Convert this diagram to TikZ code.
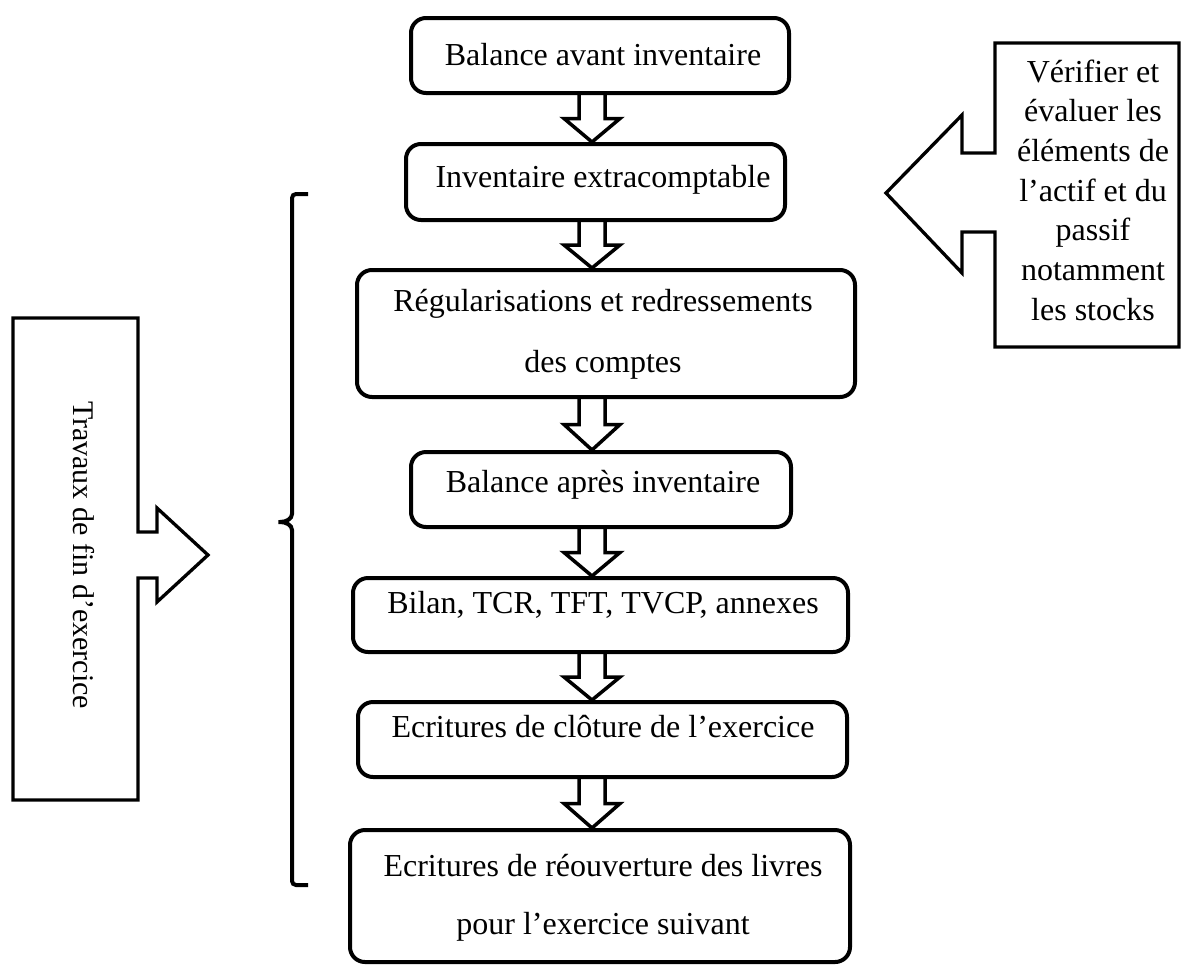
\documentclass[tikz,border=0pt]{standalone}
\usepackage{fontspec}
\setmainfont{Liberation Serif}
\usetikzlibrary{calc}
\begin{document}
\begin{tikzpicture}[x=1pt,y=-1pt,
  flowbox/.style={draw, line width=4pt, rounded corners=15pt, inner sep=0pt},
  txt/.style={font=\fontsize{32}{39.7}\selectfont, inner sep=0pt, anchor=base},
  mtxt/.style={font=\fontsize{32}{39.7}\selectfont, inner sep=0pt, align=center},
  downarrow/.style={draw, line width=3.5pt, line join=miter,
    to path={let \p1=(\tikztostart), \p2=(\tikztotarget), \n1={(\y1+\y2)/2} in
      (\x1-13pt,\y1) -- (\x1-13pt,\n1) -- (\x1-28pt,\n1) -- (\x2,\y2) -- (\x1+28pt,\n1) -- (\x1+13pt,\n1) -- (\x1+13pt,\y1)}},
  blockarrow/.style={draw, line width=3.3pt, line join=miter},
  bracket/.style={draw, line width=4pt}]
\useasboundingbox (0,0) rectangle (1182,964);

% boxes
\node[flowbox, minimum width=378pt, minimum height=75pt] (b1) at (600,55.5) {};
\node[flowbox, minimum width=379pt, minimum height=76pt] (b2) at (595.5,182) {};
\node[flowbox, minimum width=498pt, minimum height=127pt] (b3) at (606,333.5) {};
\node[flowbox, minimum width=380pt, minimum height=75pt] (b4) at (601,489.5) {};
\node[flowbox, minimum width=495pt, minimum height=74pt] (b5) at (600.5,615) {};
\node[flowbox, minimum width=489pt, minimum height=75pt] (b6) at (602.5,739.5) {};
\node[flowbox, minimum width=500pt, minimum height=132pt] (b7) at (600,896) {};

% texts
\node[txt] (t1) at (603,65) {Balance avant inventaire};
\node[txt] (t2) at (603,187) {Inventaire extracomptable};
\node[mtxt, font=\fontsize{32}{61}\selectfont] (t3) at (603,334) {Régularisations et redressements\\des comptes};
\node[txt] (t4) at (603,492) {Balance après inventaire};
\node[txt] (t5) at (603,613) {Bilan, TCR, TFT, TVCP, annexes};
\node[txt] (t6) at (603,737) {Ecritures de clôture de l’exercice};
\node[mtxt, font=\fontsize{32}{58}\selectfont] (t7) at (603,898) {Ecritures de réouverture des livres\\pour l’exercice suivant};

% hollow arrows
\coordinate (ax) at (592,0);
\draw[downarrow] (b1.south -| ax) to (b2.north -| ax);
\draw[downarrow] (b2.south -| ax) to (b3.north -| ax);
\draw[downarrow] (b3.south -| ax) to (b4.north -| ax);
\draw[downarrow] (b4.south -| ax) to (b5.north -| ax);
\draw[downarrow] (b5.south -| ax) to (b6.north -| ax);
\draw[downarrow] (b6.south -| ax) to (b7.north -| ax);

% left block arrow
\draw[blockarrow] (13,318) -- (138,318) -- (138,532) -- (157,532) -- (157,508) -- (208,555)
  -- (157,602) -- (157,578) -- (138,578) -- (138,800) -- (13,800) -- cycle;
\node[font=\fontsize{30}{36}\selectfont, inner sep=0pt, rotate=-90] (trav) at (84,555) {Travaux de fin d’exercice};

% right block arrow
\draw[blockarrow] (995,43) -- (1179,43) -- (1179,347) -- (995,347) -- (995,232) -- (962,232)
  -- (962,273) -- (886,193) -- (962,115) -- (962,153) -- (995,153) -- cycle;
\node[mtxt] (verif) at (1093,190) {Vérifier et\\évaluer les\\éléments de\\l’actif et du\\passif\\notamment\\les stocks};

% bracket
\draw[bracket, rounded corners=4pt] (308,194) -- (292,194) -- (292,510)
  .. controls (292,519) and (286,522) .. (276,522)
  .. controls (286,522) and (292,525) .. (292,534) -- (292,885) -- (308,885);
\end{tikzpicture}
\end{document}
